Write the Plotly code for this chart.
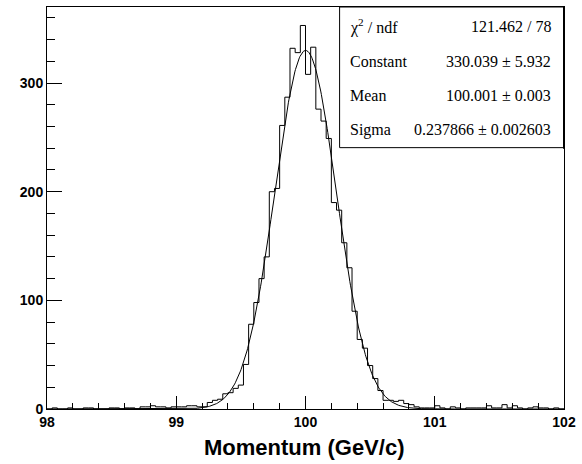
import numpy as np
import plotly.graph_objects as go

# ---------------- data ----------------
x_min, x_max = 98.0, 102.0
n_bins = 100
counts = [
    0, 1, 0, 0, 1, 0, 0, 1, 1, 0,
    0, 0, 1, 1, 0, 1, 1, 0, 2, 2,
    3, 2, 2, 1, 2, 2, 2, 3, 3, 2,
    2, 6, 8, 9, 14, 15, 19, 22, 41, 78,
    98, 120, 140, 200, 203, 261, 287, 332, 328, 353,
    308, 333, 276, 265, 249, 190, 183, 153, 130, 90,
    64, 56, 40, 28, 17, 8, 8, 7, 8, 5,
    4, 2, 1, 1, 1, 3, 1, 0, 2, 1,
    0, 1, 1, 1, 1, 3, 1, 1, 4, 1,
    3, 1, 0, 1, 2, 1, 1, 0, 1, 0,
]
fit_constant = 330.039
fit_mean = 100.001
fit_sigma = 0.237866

stat_labels = ["χ<sup>2</sup> / ndf", "Constant", "Mean", "Sigma"]
stat_values = ["121.462 / 78", "330.039 ± 5.932", "100.001 ± 0.003", "0.237866 ± 0.002603"]

x_title = "Momentum (GeV/c)"
y_range = [0, 370]

# ---------------- build ----------------
edges = np.linspace(x_min, x_max, n_bins + 1)
step_x = list(edges[:-1]) + [edges[-1]]
step_y = list(counts) + [counts[-1]]

fx = np.linspace(x_min, x_max, 800)
fy = fit_constant * np.exp(-0.5 * ((fx - fit_mean) / fit_sigma) ** 2)

fig = go.Figure()
fig.add_trace(go.Scatter(x=step_x, y=step_y, mode="lines", line_shape="hv",
                         line=dict(color="black", width=1), hoverinfo="skip"))
fig.add_trace(go.Scatter(x=fx, y=fy, mode="lines",
                         line=dict(color="black", width=1), hoverinfo="skip"))

W, H = 582, 464
L, R, T, B = 47, 12, 6, 55
plot_h = H - T - B
plot_w = W - L - R

def py(ypx):
    return (H - B - ypx) / plot_h

def px(xpx):
    return (xpx - L) / plot_w

tickfont = dict(family="Liberation Sans", size=14, color="black", weight="bold")

fig.update_layout(
    width=W, height=H,
    margin=dict(l=L, r=R, t=T, b=B),
    paper_bgcolor="white", plot_bgcolor="white",
    showlegend=False,
    xaxis=dict(range=[x_min, x_max], tickmode="linear", tick0=98, dtick=1,
               ticks="inside", ticklen=13, tickwidth=1, tickcolor="black",
               minor=dict(dtick=0.2, tick0=98, ticks="inside", ticklen=6.5,
                          tickcolor="black", tickwidth=1, showgrid=False),
               showline=True, linecolor="black", linewidth=1, mirror=True,
               showgrid=False, zeroline=False, tickfont=tickfont),
    yaxis=dict(range=y_range, tickmode="linear", tick0=0, dtick=100,
               ticks="inside", ticklen=15, tickwidth=1, tickcolor="black",
               minor=dict(dtick=20, tick0=0, ticks="inside", ticklen=7.5,
                          tickcolor="black", tickwidth=1, showgrid=False),
               showline=True, linecolor="black", linewidth=1, mirror=True,
               showgrid=False, zeroline=False, tickfont=tickfont),
)

# x title
fig.add_annotation(text=x_title, xref="paper", yref="paper", x=px(307), y=py(448),
                   xanchor="center", yanchor="middle", showarrow=False,
                   font=dict(family="Liberation Sans", size=22, color="black", weight="bold"))

# stats box
fig.add_shape(type="rect", xref="paper", yref="paper",
              x0=px(343), x1=px(570), y0=py(147), y1=py(6),
              line=dict(color="black", width=1), fillcolor="white", layer="above")
fig.add_shape(type="line", xref="paper", yref="paper",
              x0=px(570), x1=px(570), y0=py(148), y1=py(6),
              line=dict(color="black", width=2), layer="above")

row_y = [26, 61, 95, 129]
for lab, val, yy in zip(stat_labels, stat_values, row_y):
    fig.add_annotation(text=lab, xref="paper", yref="paper", x=px(351), y=py(yy),
                       xanchor="left", yanchor="middle", showarrow=False,
                       font=dict(family="Liberation Serif", size=16, color="black"))
    fig.add_annotation(text=val, xref="paper", yref="paper", x=px(559), y=py(yy),
                       xanchor="right", yanchor="middle", showarrow=False,
                       font=dict(family="Liberation Serif", size=16, color="black"))

fig.write_html("out.html")
